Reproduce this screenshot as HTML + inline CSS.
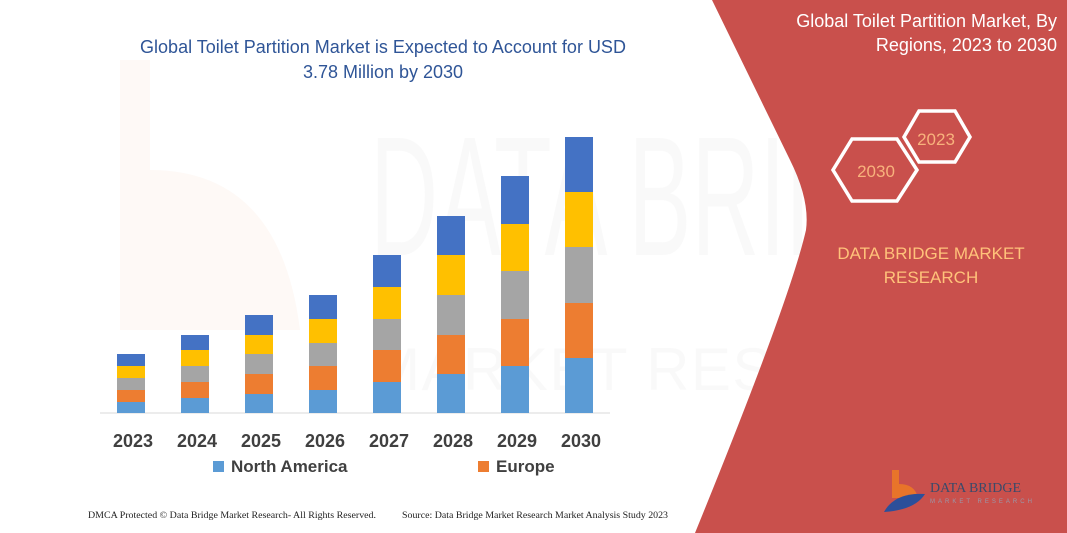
<!DOCTYPE html>
<html><head><meta charset="utf-8"><style>
body{margin:0;width:1067px;height:533px;overflow:hidden;background:#fff;font-family:"Liberation Sans",sans-serif;}
</style></head><body>
<svg width="1067" height="533" xmlns="http://www.w3.org/2000/svg" style="position:absolute;left:0;top:0">
<g opacity="0.04" fill="#888">
<text x="370" y="255" font-size="170" font-family="Liberation Sans" textLength="620" lengthAdjust="spacingAndGlyphs">DATA BRIDGE</text>
<text x="370" y="390" font-size="60" font-family="Liberation Sans" textLength="620" lengthAdjust="spacing">MARKET RESEARCH</text>
</g>
<path d="M120 60 L150 60 L150 170 Q280 170 300 330 L120 330 Z" fill="#f3c3a6" opacity="0.1"/>
<path d="M712 0 L1067 0 L1067 533 L695 533 Q790 300 806 230 Q810 200 790 160 Z" fill="#c9504c"/>
<text x="1057" y="27" font-size="18" fill="#fff" text-anchor="end">Global Toilet Partition Market, By</text>
<text x="1057" y="51" font-size="18" fill="#fff" text-anchor="end">Regions, 2023 to 2030</text>
<polygon points="919,111 955,111 970,137 955,162 919,162 904,137" fill="none" stroke="#fff" stroke-width="3.5"/>
<polygon points="852,139 897,139 917,170 897,201 852,201 833,170" fill="none" stroke="#fff" stroke-width="3.5"/>
<text x="936" y="145" font-size="17" fill="#f8b27c" text-anchor="middle">2023</text>
<text x="876" y="177" font-size="17" fill="#f8b27c" text-anchor="middle">2030</text>
<text x="931" y="259" font-size="17" fill="#ffc27a" text-anchor="middle">DATA BRIDGE MARKET</text>
<text x="931" y="283" font-size="17" fill="#ffc27a" text-anchor="middle">RESEARCH</text>
<path d="M892 470 L899 470 L899 484 Q915 484 918 498 L892 498 Z" fill="#e8742a"/>
<path d="M884 512 Q895 492 925 494 Q915 510 884 512 Z" fill="#2c4f9a"/>
<text x="930" y="492" font-size="14" fill="#3a4a6a" font-family="Liberation Serif">DATA BRIDGE</text>
<text x="930" y="503" font-size="6" fill="#99a" letter-spacing="3">MARKET RESEARCH</text>
<text x="383" y="53" font-size="18" fill="#2f5597" text-anchor="middle">Global Toilet Partition Market is Expected to Account for USD</text>
<text x="383" y="78" font-size="18" fill="#2f5597" text-anchor="middle">3.78 Million by 2030</text>
<line x1="100" y1="413" x2="610" y2="413" stroke="#d9d9d9" stroke-width="1"/>
<g font-size="18" font-weight="bold" fill="#404040" text-anchor="middle">
<text x="133" y="447">2023</text><text x="197" y="447">2024</text><text x="261" y="447">2025</text><text x="325" y="447">2026</text>
<text x="389" y="447">2027</text><text x="453" y="447">2028</text><text x="517" y="447">2029</text><text x="581" y="447">2030</text>
</g>
<rect x="213" y="461" width="11" height="11" fill="#5b9bd5"/>
<text x="231" y="472" font-size="17" font-weight="bold" fill="#404040">North America</text>
<rect x="478" y="461" width="11" height="11" fill="#ed7d31"/>
<text x="496" y="472" font-size="17" font-weight="bold" fill="#404040">Europe</text>
<text x="88" y="518" font-size="9" fill="#222" font-family="Liberation Serif" textLength="288" lengthAdjust="spacingAndGlyphs">DMCA Protected © Data Bridge Market Research- All Rights Reserved.</text>
<text x="402" y="518" font-size="9" fill="#222" font-family="Liberation Serif" textLength="266" lengthAdjust="spacingAndGlyphs">Source: Data Bridge Market Research Market Analysis Study 2023</text>
<g>
<g transform="translate(117,0)"><rect y="402" width="28" height="11" fill="#5b9bd5"/><rect y="390" width="28" height="12" fill="#ed7d31"/><rect y="378" width="28" height="12" fill="#a5a5a5"/><rect y="366" width="28" height="12" fill="#ffc000"/><rect y="354" width="28" height="12" fill="#4472c4"/></g>
<g transform="translate(181,0)"><rect y="398" width="28" height="15" fill="#5b9bd5"/><rect y="382" width="28" height="16" fill="#ed7d31"/><rect y="366" width="28" height="16" fill="#a5a5a5"/><rect y="350" width="28" height="16" fill="#ffc000"/><rect y="335" width="28" height="15" fill="#4472c4"/></g>
<g transform="translate(245,0)"><rect y="394" width="28" height="19" fill="#5b9bd5"/><rect y="374" width="28" height="20" fill="#ed7d31"/><rect y="354" width="28" height="20" fill="#a5a5a5"/><rect y="335" width="28" height="19" fill="#ffc000"/><rect y="315" width="28" height="20" fill="#4472c4"/></g>
<g transform="translate(309,0)"><rect y="390" width="28" height="23" fill="#5b9bd5"/><rect y="366" width="28" height="24" fill="#ed7d31"/><rect y="343" width="28" height="23" fill="#a5a5a5"/><rect y="319" width="28" height="24" fill="#ffc000"/><rect y="295" width="28" height="24" fill="#4472c4"/></g>
<g transform="translate(373,0)"><rect y="382" width="28" height="31" fill="#5b9bd5"/><rect y="350" width="28" height="32" fill="#ed7d31"/><rect y="319" width="28" height="31" fill="#a5a5a5"/><rect y="287" width="28" height="32" fill="#ffc000"/><rect y="255" width="28" height="32" fill="#4472c4"/></g>
<g transform="translate(437,0)"><rect y="374" width="28" height="39" fill="#5b9bd5"/><rect y="335" width="28" height="39" fill="#ed7d31"/><rect y="295" width="28" height="40" fill="#a5a5a5"/><rect y="255" width="28" height="40" fill="#ffc000"/><rect y="216" width="28" height="39" fill="#4472c4"/></g>
<g transform="translate(501,0)"><rect y="366" width="28" height="47" fill="#5b9bd5"/><rect y="319" width="28" height="47" fill="#ed7d31"/><rect y="271" width="28" height="48" fill="#a5a5a5"/><rect y="224" width="28" height="47" fill="#ffc000"/><rect y="176" width="28" height="48" fill="#4472c4"/></g>
<g transform="translate(565,0)"><rect y="358" width="28" height="55" fill="#5b9bd5"/><rect y="303" width="28" height="55" fill="#ed7d31"/><rect y="247" width="28" height="56" fill="#a5a5a5"/><rect y="192" width="28" height="55" fill="#ffc000"/><rect y="137" width="28" height="55" fill="#4472c4"/></g>
</g>
</svg>
</body></html>
